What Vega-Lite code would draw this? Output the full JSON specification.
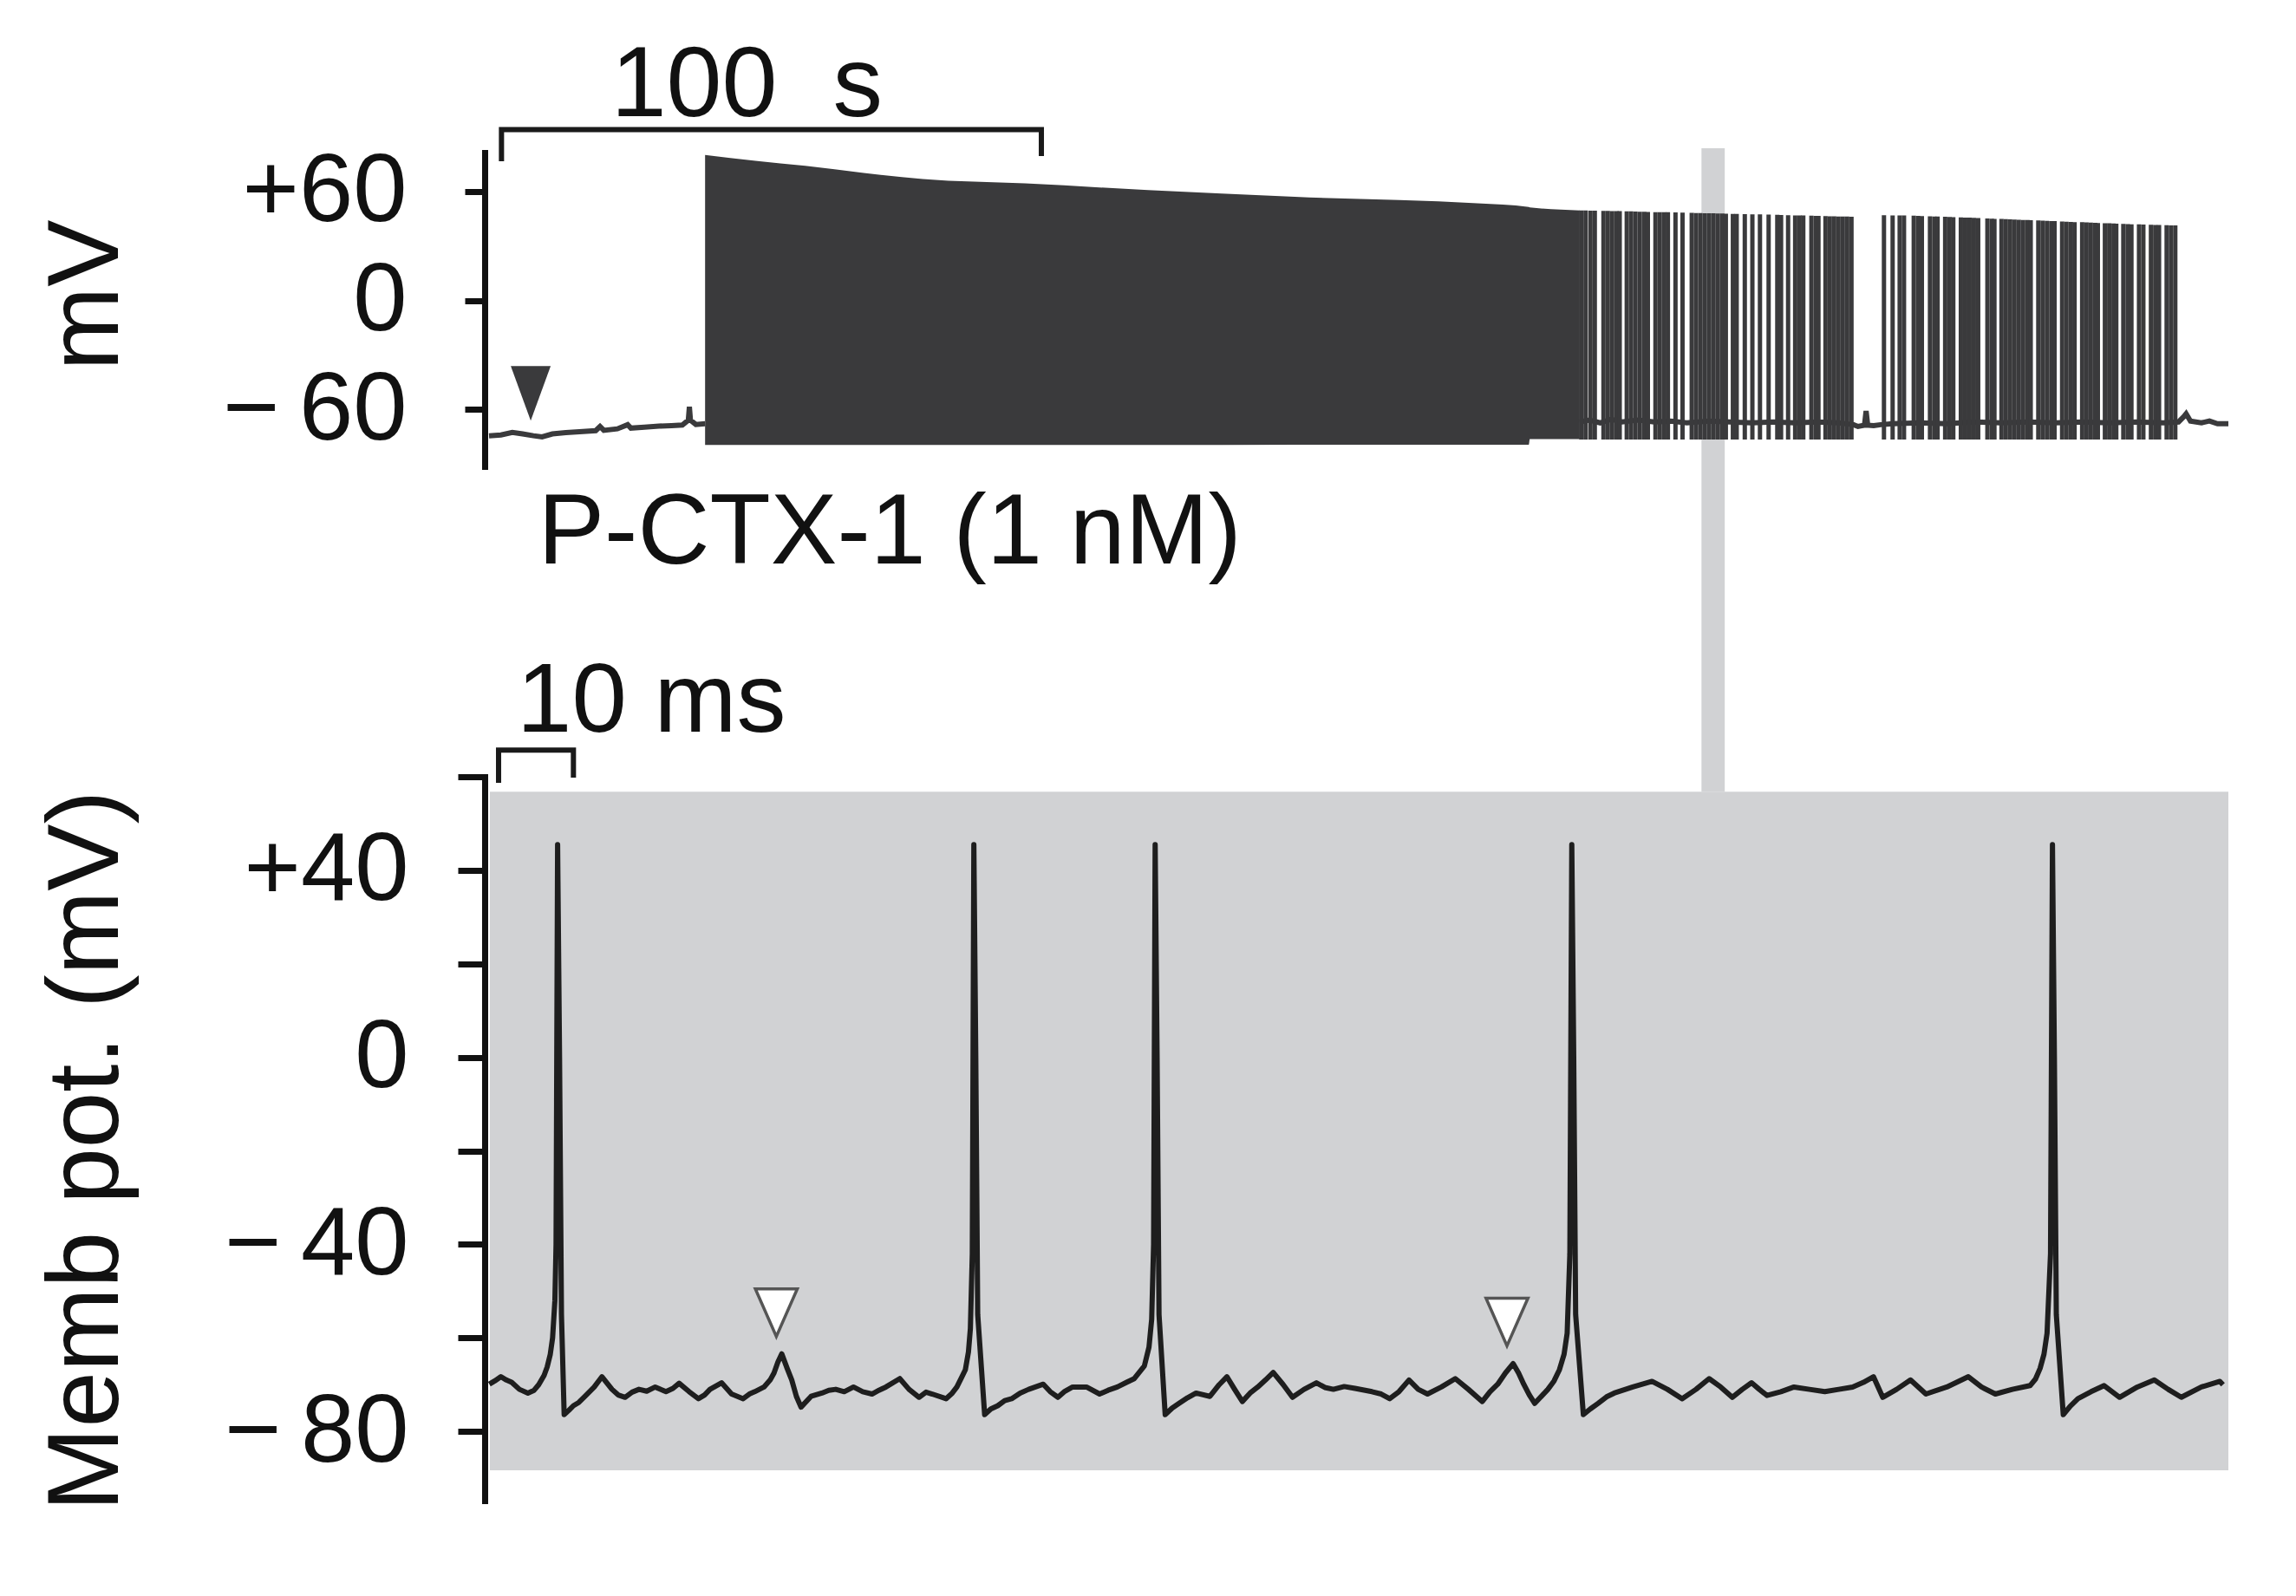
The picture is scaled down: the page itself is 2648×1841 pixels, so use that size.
{
  "$schema": "https://vega.github.io/schema/vega-lite/v6.json",
  "description": "Membrane potential before and during P-CTX-1 (1 nM), with a 225 ms expanded sweep below.",
  "width": 2011,
  "height": 1841,
  "autosize": "none",
  "padding": {"left": 559, "top": 0, "right": 78, "bottom": 0},
  "background": "white",
  "config": {
    "view": {"stroke": null},
    "font": "Liberation Sans",
    "axis": {
      "labelFont": "Liberation Sans",
      "titleFont": "Liberation Sans",
      "labelColor": "#111111",
      "titleColor": "#111111",
      "domainColor": "#111111",
      "tickColor": "#111111",
      "labelLimit": 0,
      "titleLimit": 0,
      "grid": false
    }
  },
  "datasets": {
    "band": [{"t": 224.7, "t2": 229.0, "v": 83.9, "v2": -270.8}],
    "burst": [
      {"t": 40.7, "v": 80.2, "v2": -79.7},
      {"t": 50.0, "v": 77.0, "v2": -79.7},
      {"t": 59.2, "v": 74.2, "v2": -79.7},
      {"t": 70.0, "v": 70.3, "v2": -79.7},
      {"t": 80.9, "v": 66.9, "v2": -79.7},
      {"t": 99.8, "v": 64.5, "v2": -79.7},
      {"t": 122.5, "v": 60.8, "v2": -79.7},
      {"t": 149.6, "v": 57.1, "v2": -79.5},
      {"t": 183.3, "v": 53.5, "v2": -79.5},
      {"t": 192.8, "v": 51.5, "v2": -79.5},
      {"t": 193.0, "v": 51.3, "v2": -76.5},
      {"t": 202.2, "v": 49.6, "v2": -76.5}
    ],
    "topTrace": [
      {"seg": "a", "t": 0.8, "v": -74.6}, {"seg": "a", "t": 3.0, "v": -74.2}, {"seg": "a", "t": 5.1, "v": -72.8},
      {"seg": "a", "t": 7.0, "v": -73.6}, {"seg": "a", "t": 9.0, "v": -74.6}, {"seg": "a", "t": 10.6, "v": -75.2},
      {"seg": "a", "t": 12.5, "v": -73.6}, {"seg": "a", "t": 15.0, "v": -72.9}, {"seg": "a", "t": 17.5, "v": -72.4},
      {"seg": "a", "t": 20.5, "v": -71.8}, {"seg": "a", "t": 21.3, "v": -69.5}, {"seg": "a", "t": 22.0, "v": -71.6},
      {"seg": "a", "t": 24.5, "v": -70.8}, {"seg": "a", "t": 26.4, "v": -68.5}, {"seg": "a", "t": 27.0, "v": -70.4},
      {"seg": "a", "t": 29.5, "v": -69.9}, {"seg": "a", "t": 32.2, "v": -69.3}, {"seg": "a", "t": 34.5, "v": -69.0},
      {"seg": "a", "t": 36.5, "v": -68.7}, {"seg": "a", "t": 37.6, "v": -66.0}, {"seg": "a", "t": 37.8, "v": -58.6},
      {"seg": "a", "t": 38.0, "v": -66.0}, {"seg": "a", "t": 39.0, "v": -68.4}, {"seg": "a", "t": 40.7, "v": -68.0},
      {"seg": "b", "t": 202.2, "v": -67.0}, {"seg": "b", "t": 204.0, "v": -66.0}, {"seg": "b", "t": 206.0, "v": -67.5},
      {"seg": "b", "t": 208.0, "v": -65.5}, {"seg": "b", "t": 210.0, "v": -67.0}, {"seg": "b", "t": 213.0, "v": -66.0},
      {"seg": "b", "t": 216.0, "v": -67.0}, {"seg": "b", "t": 219.0, "v": -66.5}, {"seg": "b", "t": 222.0, "v": -67.5},
      {"seg": "b", "t": 226.0, "v": -66.5}, {"seg": "b", "t": 230.0, "v": -67.0}, {"seg": "b", "t": 234.0, "v": -67.5},
      {"seg": "b", "t": 238.0, "v": -67.0}, {"seg": "b", "t": 242.0, "v": -67.5}, {"seg": "b", "t": 246.0, "v": -67.0},
      {"seg": "b", "t": 250.0, "v": -67.5}, {"seg": "b", "t": 252.8, "v": -68.5}, {"seg": "b", "t": 253.6, "v": -69.5},
      {"seg": "b", "t": 254.8, "v": -68.8}, {"seg": "b", "t": 255.1, "v": -61.0}, {"seg": "b", "t": 255.4, "v": -68.8},
      {"seg": "b", "t": 256.5, "v": -69.0}, {"seg": "b", "t": 257.8, "v": -68.5}, {"seg": "b", "t": 260.0, "v": -68.0},
      {"seg": "b", "t": 265.0, "v": -67.5}, {"seg": "b", "t": 270.0, "v": -68.0}, {"seg": "b", "t": 275.0, "v": -67.0},
      {"seg": "b", "t": 280.0, "v": -67.5}, {"seg": "b", "t": 285.0, "v": -67.0}, {"seg": "b", "t": 290.0, "v": -67.5},
      {"seg": "b", "t": 295.0, "v": -67.0}, {"seg": "b", "t": 300.0, "v": -67.5}, {"seg": "b", "t": 305.0, "v": -67.0},
      {"seg": "b", "t": 310.0, "v": -67.5}, {"seg": "b", "t": 312.8, "v": -67.0}, {"seg": "b", "t": 313.8, "v": -64.0},
      {"seg": "b", "t": 314.2, "v": -62.5}, {"seg": "b", "t": 315.0, "v": -66.5}, {"seg": "b", "t": 317.0, "v": -67.5},
      {"seg": "b", "t": 318.5, "v": -66.5}, {"seg": "b", "t": 320.0, "v": -68.0}, {"seg": "b", "t": 322.0, "v": -68.0}
    ],
    "spikes": [
      {"t": 202.5, "v": 49.6}, {"t": 203.3, "v": 49.6}, {"t": 204.2, "v": 49.5}, {"t": 205.0, "v": 49.5},
      {"t": 206.6, "v": 49.4}, {"t": 207.4, "v": 49.4}, {"t": 208.2, "v": 49.3}, {"t": 209.0, "v": 49.3},
      {"t": 209.6, "v": 49.2}, {"t": 210.9, "v": 49.1}, {"t": 211.7, "v": 49.1}, {"t": 212.5, "v": 49.0},
      {"t": 213.3, "v": 48.9}, {"t": 214.1, "v": 48.9}, {"t": 214.8, "v": 48.8}, {"t": 216.2, "v": 48.7},
      {"t": 217.0, "v": 48.7}, {"t": 217.8, "v": 48.6}, {"t": 218.5, "v": 48.6}, {"t": 219.9, "v": 48.5},
      {"t": 221.2, "v": 48.4}, {"t": 222.9, "v": 48.3}, {"t": 223.7, "v": 48.2}, {"t": 224.5, "v": 48.2},
      {"t": 225.3, "v": 48.1}, {"t": 226.1, "v": 48.0}, {"t": 226.9, "v": 48.0}, {"t": 227.7, "v": 47.9},
      {"t": 228.5, "v": 47.9}, {"t": 229.2, "v": 47.8}, {"t": 230.5, "v": 47.7}, {"t": 231.2, "v": 47.7},
      {"t": 232.7, "v": 47.6}, {"t": 234.1, "v": 47.5}, {"t": 235.5, "v": 47.4}, {"t": 237.1, "v": 47.3},
      {"t": 238.7, "v": 47.2}, {"t": 239.4, "v": 47.1}, {"t": 240.7, "v": 47.0}, {"t": 242.0, "v": 46.9},
      {"t": 242.8, "v": 46.9}, {"t": 243.5, "v": 46.8}, {"t": 245.0, "v": 46.7}, {"t": 245.8, "v": 46.6},
      {"t": 246.3, "v": 46.6}, {"t": 247.6, "v": 46.5}, {"t": 248.4, "v": 46.4}, {"t": 249.2, "v": 46.4},
      {"t": 250.0, "v": 46.3}, {"t": 250.8, "v": 46.2}, {"t": 251.6, "v": 46.2}, {"t": 252.4, "v": 46.1},
      {"t": 258.4, "v": 47.0}, {"t": 260.0, "v": 46.9}, {"t": 261.3, "v": 46.8}, {"t": 262.1, "v": 46.8},
      {"t": 263.9, "v": 46.7}, {"t": 264.7, "v": 46.6}, {"t": 265.4, "v": 46.5}, {"t": 266.9, "v": 46.4},
      {"t": 267.7, "v": 46.3}, {"t": 268.3, "v": 46.2}, {"t": 269.7, "v": 46.1}, {"t": 270.5, "v": 46.0},
      {"t": 271.2, "v": 45.9}, {"t": 272.6, "v": 45.8}, {"t": 273.4, "v": 45.7}, {"t": 274.2, "v": 45.6},
      {"t": 275.0, "v": 45.5}, {"t": 275.8, "v": 45.4}, {"t": 277.5, "v": 45.2}, {"t": 278.3, "v": 45.1},
      {"t": 278.8, "v": 45.0}, {"t": 280.1, "v": 44.9}, {"t": 280.9, "v": 44.8}, {"t": 281.7, "v": 44.7},
      {"t": 282.5, "v": 44.6}, {"t": 283.3, "v": 44.5}, {"t": 284.1, "v": 44.4}, {"t": 284.9, "v": 44.3},
      {"t": 285.5, "v": 44.2}, {"t": 286.9, "v": 44.1}, {"t": 287.7, "v": 44.0}, {"t": 288.5, "v": 43.9},
      {"t": 289.3, "v": 43.8}, {"t": 289.9, "v": 43.7}, {"t": 291.3, "v": 43.5}, {"t": 292.1, "v": 43.4},
      {"t": 292.9, "v": 43.3}, {"t": 293.6, "v": 43.2}, {"t": 295.0, "v": 43.1}, {"t": 295.8, "v": 43.0},
      {"t": 296.6, "v": 42.9}, {"t": 297.4, "v": 42.8}, {"t": 297.9, "v": 42.7}, {"t": 299.2, "v": 42.6},
      {"t": 300.0, "v": 42.5}, {"t": 300.8, "v": 42.4}, {"t": 301.3, "v": 42.3}, {"t": 302.6, "v": 42.2},
      {"t": 303.4, "v": 42.1}, {"t": 304.1, "v": 42.0}, {"t": 305.5, "v": 41.9}, {"t": 306.3, "v": 41.8},
      {"t": 307.7, "v": 41.7}, {"t": 308.5, "v": 41.6}, {"t": 309.2, "v": 41.6}, {"t": 310.6, "v": 41.5},
      {"t": 311.4, "v": 41.4}, {"t": 312.2, "v": 41.4}
    ],
    "bracketTop": [
      {"o": 1, "t": 3.1, "v": 76.7}, {"o": 2, "t": 3.1, "v": 94.2},
      {"o": 3, "t": 102.8, "v": 94.2}, {"o": 4, "t": 102.8, "v": 79.6}
    ],
    "arrowTop": [{"t": 8.5, "v": -51.2}],
    "labelsTop": [
      {"t": 48.4, "v": 101.6, "label": "100\u00a0\u00a0s"},
      {"t": 74.8, "v": -145.1, "label": "P-CTX-1 (1 nM)"}
    ],
    "panel": [{"t": 0.67, "t2": 226, "v": 56.8, "v2": -88.3}],
    "memb": [
      {"t": 0.6, "v": -69.9}, {"t": 1.3, "v": -69.2}, {"t": 2.1, "v": -68.3}, {"t": 2.8, "v": -69.0}, {"t": 3.5, "v": -69.5},
      {"t": 4.5, "v": -71.0}, {"t": 5.6, "v": -71.8}, {"t": 6.4, "v": -71.2},
      {"t": 7.0, "v": -70.0}, {"t": 7.7, "v": -68.0}, {"t": 8.1, "v": -66.2}, {"t": 8.5, "v": -63.5}, {"t": 8.8, "v": -60}, {"t": 9.1, "v": -52}, {"t": 9.25, "v": -40},
      {"t": 9.45, "v": 45.5}, {"t": 9.7, "v": 0}, {"t": 9.95, "v": -55}, {"t": 10.3, "v": -76.4},
      {"t": 10.9, "v": -75.5}, {"t": 11.5, "v": -74.5}, {"t": 12.2, "v": -73.8}, {"t": 13.0, "v": -72.5}, {"t": 14.2, "v": -70.5}, {"t": 15.2, "v": -68.3}, {"t": 16.5, "v": -71},
      {"t": 17.3, "v": -72.2}, {"t": 18.2, "v": -72.7}, {"t": 19.1, "v": -71.6}, {"t": 20.0, "v": -71}, {"t": 21.0, "v": -71.4}, {"t": 22.1, "v": -70.5}, {"t": 23.5, "v": -71.5},
      {"t": 24.4, "v": -70.8}, {"t": 25.2, "v": -69.7}, {"t": 26.5, "v": -71.5}, {"t": 27.7, "v": -73}, {"t": 28.5, "v": -72.2}, {"t": 29.2, "v": -71},
      {"t": 30.7, "v": -69.6}, {"t": 32.0, "v": -72}, {"t": 33.5, "v": -73}, {"t": 34.3, "v": -72.0}, {"t": 35.0, "v": -71.5},
      {"t": 36.2, "v": -70.5}, {"t": 37.0, "v": -69.0}, {"t": 37.5, "v": -67.5}, {"t": 38.0, "v": -65.2}, {"t": 38.5, "v": -63.4}, {"t": 39.2, "v": -66.5}, {"t": 39.8, "v": -69},
      {"t": 40.4, "v": -72.5}, {"t": 41.0, "v": -74.8}, {"t": 42.3, "v": -72.5}, {"t": 43.7, "v": -71.8}, {"t": 44.6, "v": -71.2}, {"t": 45.5, "v": -71.0}, {"t": 46.6, "v": -71.5},
      {"t": 47.8, "v": -70.5}, {"t": 49.0, "v": -71.5}, {"t": 50.2, "v": -72}, {"t": 51.1, "v": -71.2}, {"t": 52.0, "v": -70.5},
      {"t": 53.8, "v": -68.7}, {"t": 55.0, "v": -71}, {"t": 56.3, "v": -72.7}, {"t": 57.2, "v": -71.6}, {"t": 58.0, "v": -72},
      {"t": 59.8, "v": -73}, {"t": 60.6, "v": -71.8}, {"t": 61.2, "v": -70.5}, {"t": 61.8, "v": -68.5}, {"t": 62.3, "v": -66.8}, {"t": 62.7, "v": -63}, {"t": 62.95, "v": -58},
      {"t": 63.2, "v": -42}, {"t": 63.4, "v": 45.5}, {"t": 63.65, "v": 0}, {"t": 63.9, "v": -55},
      {"t": 64.8, "v": -76.4}, {"t": 65.6, "v": -75.2}, {"t": 66.5, "v": -74.5}, {"t": 67.4, "v": -73.4}, {"t": 68.3, "v": -73}, {"t": 69.4, "v": -71.8}, {"t": 70.5, "v": -71},
      {"t": 72.4, "v": -69.9}, {"t": 73.3, "v": -71.5}, {"t": 74.3, "v": -72.7}, {"t": 75.2, "v": -71.4}, {"t": 76.2, "v": -70.5}, {"t": 78.0, "v": -70.5},
      {"t": 79.7, "v": -72}, {"t": 80.8, "v": -71.2}, {"t": 82.0, "v": -70.5}, {"t": 83.2, "v": -69.5}, {"t": 84.2, "v": -68.7}, {"t": 85.5, "v": -66},
      {"t": 86.1, "v": -62}, {"t": 86.45, "v": -56}, {"t": 86.7, "v": -40}, {"t": 86.9, "v": 45.5}, {"t": 87.15, "v": 0},
      {"t": 87.4, "v": -55}, {"t": 88.2, "v": -76.4}, {"t": 89.1, "v": -75.0}, {"t": 90.0, "v": -74}, {"t": 91.1, "v": -72.8}, {"t": 92.2, "v": -71.8},
      {"t": 94.0, "v": -72.5}, {"t": 95.2, "v": -70.0}, {"t": 96.2, "v": -68.3}, {"t": 97.2, "v": -71}, {"t": 98.2, "v": -73.6},
      {"t": 99.2, "v": -71.8}, {"t": 100.2, "v": -70.5}, {"t": 101.2, "v": -69.0}, {"t": 102.2, "v": -67.4}, {"t": 103.5, "v": -70}, {"t": 104.7, "v": -72.7},
      {"t": 106.2, "v": -71}, {"t": 107.8, "v": -69.6}, {"t": 108.9, "v": -70.6}, {"t": 110.0, "v": -71}, {"t": 111.4, "v": -70.4}, {"t": 112.8, "v": -70.8},
      {"t": 115.0, "v": -71.5}, {"t": 116.2, "v": -72.0}, {"t": 117.3, "v": -73}, {"t": 118.5, "v": -71.5}, {"t": 119.8, "v": -69},
      {"t": 121.0, "v": -71}, {"t": 122.2, "v": -72}, {"t": 124.0, "v": -70.5}, {"t": 125.8, "v": -68.7},
      {"t": 127.5, "v": -71}, {"t": 129.3, "v": -73.6}, {"t": 130.3, "v": -71.5}, {"t": 131.3, "v": -69.9},
      {"t": 132.3, "v": -67.5}, {"t": 133.3, "v": -65.5}, {"t": 134.0, "v": -67.5}, {"t": 134.7, "v": -70}, {"t": 135.4, "v": -72.2}, {"t": 136.1, "v": -74},
      {"t": 137.8, "v": -71}, {"t": 138.6, "v": -69.2}, {"t": 139.3, "v": -66.8}, {"t": 139.9, "v": -63.5}, {"t": 140.3, "v": -59}, {"t": 140.65, "v": -42},
      {"t": 140.9, "v": 45.5}, {"t": 141.15, "v": 0}, {"t": 141.4, "v": -55}, {"t": 142.4, "v": -76.4},
      {"t": 143.3, "v": -75.2}, {"t": 144.3, "v": -74}, {"t": 145.4, "v": -72.6}, {"t": 146.4, "v": -71.8}, {"t": 148.8, "v": -70.5}, {"t": 151.3, "v": -69.3},
      {"t": 153.3, "v": -71}, {"t": 155.2, "v": -73}, {"t": 157.0, "v": -71}, {"t": 158.7, "v": -68.7},
      {"t": 160.2, "v": -70.5}, {"t": 161.7, "v": -72.7}, {"t": 163.0, "v": -71}, {"t": 164.2, "v": -69.6},
      {"t": 165.2, "v": -71}, {"t": 166.2, "v": -72.3}, {"t": 168.0, "v": -71.5}, {"t": 169.7, "v": -70.5},
      {"t": 171.7, "v": -71}, {"t": 173.7, "v": -71.5}, {"t": 175.5, "v": -71}, {"t": 177.3, "v": -70.5},
      {"t": 178.7, "v": -69.5}, {"t": 180.0, "v": -68.3}, {"t": 181.2, "v": -72.7}, {"t": 183.0, "v": -71},
      {"t": 184.8, "v": -69}, {"t": 186.8, "v": -72}, {"t": 189.5, "v": -70.5}, {"t": 192.3, "v": -68.3},
      {"t": 194.0, "v": -70.5}, {"t": 195.8, "v": -72}, {"t": 198.0, "v": -71}, {"t": 200.3, "v": -70.2},
      {"t": 201.0, "v": -68.8}, {"t": 201.6, "v": -66.5}, {"t": 202.1, "v": -63.5}, {"t": 202.5, "v": -59}, {"t": 202.95, "v": -42}, {"t": 203.2, "v": 45.5},
      {"t": 203.45, "v": 0}, {"t": 203.7, "v": -55}, {"t": 204.6, "v": -76.4}, {"t": 205.5, "v": -74.6}, {"t": 206.5, "v": -73},
      {"t": 208.2, "v": -71.5}, {"t": 209.9, "v": -70.2}, {"t": 211.9, "v": -72.7}, {"t": 214.2, "v": -70.5},
      {"t": 216.4, "v": -69}, {"t": 218.2, "v": -71}, {"t": 219.9, "v": -72.7}, {"t": 222.5, "v": -70.5},
      {"t": 224.9, "v": -69.3}, {"t": 225.3, "v": -70}
    ],
    "bracketBottom": [
      {"o": 1, "t": 1.8, "v": 58.7}, {"o": 2, "t": 1.8, "v": 65.7},
      {"o": 3, "t": 11.5, "v": 65.7}, {"o": 4, "t": 11.5, "v": 59.8}
    ],
    "arrowsBottom": [{"t": 37.8, "v": -54.6}, {"t": 132.5, "v": -56.6}],
    "labelsBottom": [{"t": 21.6, "v": 69.6, "label": "10 ms"}]
  },
  "layer": [
    {
      "encoding": {
        "x": {"field": "t", "type": "quantitative", "axis": null,
              "scale": {"domain": [0, 322], "range": [0, 2011], "nice": false, "zero": false}},
        "y": {"field": "v", "type": "quantitative", "title": "mV",
              "scale": {"domain": [-91.5, 81.5], "range": [538, 176], "nice": false, "zero": false},
              "axis": {"orient": "left", "values": [-60, 0, 60],
                       "labelExpr": "datum.value > 0 ? '+' + datum.value : (datum.value < 0 ? '−\u2009' + abs(datum.value) : '0')",
                       "labelFontSize": 112, "labelPadding": 67, "labelBaseline": "middle", "labelOverlap": false, "labelFlush": false, "labelBound": false,
                       "tickSize": 23, "tickWidth": 7, "domainWidth": 7, "domainCap": "square",
                       "titleFontSize": 116, "titleFontWeight": "normal", "titleAngle": 270, "titleAlign": "center",
                       "titleBaseline": "alphabetic", "titleX": -424, "titleY": 340}}
      },
      "layer": [
        {"data": {"name": "band"}, "mark": {"type": "rect", "color": "#d1d2d4"},
         "encoding": {"x2": {"field": "t2"}, "y2": {"field": "v2"}}},
        {"data": {"name": "burst"}, "mark": {"type": "area", "color": "#3a3a3c", "interpolate": "monotone"},
         "encoding": {"y2": {"field": "v2"}}},
        {"data": {"name": "topTrace"}, "mark": {"type": "line", "color": "#3a3a3c", "strokeWidth": 6},
         "encoding": {"detail": {"field": "seg"}}},
        {"data": {"name": "spikes"}, "mark": {"type": "rule", "color": "#3a3a3c", "strokeWidth": 5, "strokeCap": "butt"},
         "encoding": {"y2": {"datum": -76.7}}},
        {"data": {"name": "bracketTop"}, "mark": {"type": "line", "color": "#1a1a1a", "strokeWidth": 6, "strokeCap": "butt", "strokeJoin": "miter"},
         "encoding": {"order": {"field": "o"}}},
        {"data": {"name": "arrowTop"},
         "mark": {"type": "point", "filled": true, "color": "#3a3a3c", "opacity": 1, "size": 3969, "shape": "M-0.73,-1L0.73,-1L0,1Z"}},
        {"data": {"name": "labelsTop"},
         "mark": {"type": "text", "font": "Liberation Sans", "fontSize": 115, "align": "center", "baseline": "alphabetic", "color": "#111111"},
         "encoding": {"text": {"field": "label"}}}
      ]
    },
    {
      "encoding": {
        "x": {"field": "t", "type": "quantitative", "axis": null,
              "scale": {"domain": [0, 226], "range": [0, 2011], "nice": false, "zero": false}},
        "y": {"field": "v", "type": "quantitative", "title": "Memb pot. (mV)",
              "scale": {"domain": [-94.8, 60], "range": [1731, 896], "nice": false, "zero": false},
              "axis": {"orient": "left", "values": [60, 40, 20, 0, -20, -40, -60, -80],
                       "labelExpr": "datum.value % 40 != 0 ? '' : (datum.value > 0 ? '+' + datum.value : (datum.value < 0 ? '−\u2009' + abs(datum.value) : '0'))",
                       "labelFontSize": 112, "labelPadding": 57, "labelBaseline": "middle", "labelOverlap": false, "labelFlush": false, "labelBound": false,
                       "tickSize": 31, "tickWidth": 7, "domainWidth": 7, "domainCap": "square",
                       "titleFontSize": 116, "titleFontWeight": "normal", "titleAngle": 270, "titleAlign": "center",
                       "titleBaseline": "alphabetic", "titleX": -424, "titleY": 1327}}
      },
      "layer": [
        {"data": {"name": "panel"}, "mark": {"type": "rect", "color": "#d1d2d4"},
         "encoding": {"x2": {"field": "t2"}, "y2": {"field": "v2"}}},
        {"data": {"name": "memb"}, "mark": {"type": "line", "color": "#1e1e1e", "strokeWidth": 6, "strokeJoin": "round"}},
        {"data": {"name": "bracketBottom"}, "mark": {"type": "line", "color": "#1a1a1a", "strokeWidth": 6, "strokeCap": "butt", "strokeJoin": "miter"},
         "encoding": {"order": {"field": "o"}}},
        {"data": {"name": "arrowsBottom"},
         "mark": {"type": "point", "filled": false, "fill": "white", "stroke": "#555555", "strokeWidth": 3.5, "opacity": 1, "size": 3025, "shape": "M-0.88,-1L0.88,-1L0,1Z"}},
        {"data": {"name": "labelsBottom"},
         "mark": {"type": "text", "font": "Liberation Sans", "fontSize": 114, "align": "center", "baseline": "alphabetic", "color": "#111111"},
         "encoding": {"text": {"field": "label"}}}
      ]
    }
  ],
  "resolve": {"scale": {"x": "independent", "y": "independent"}, "axis": {"x": "independent", "y": "independent"}}
}
